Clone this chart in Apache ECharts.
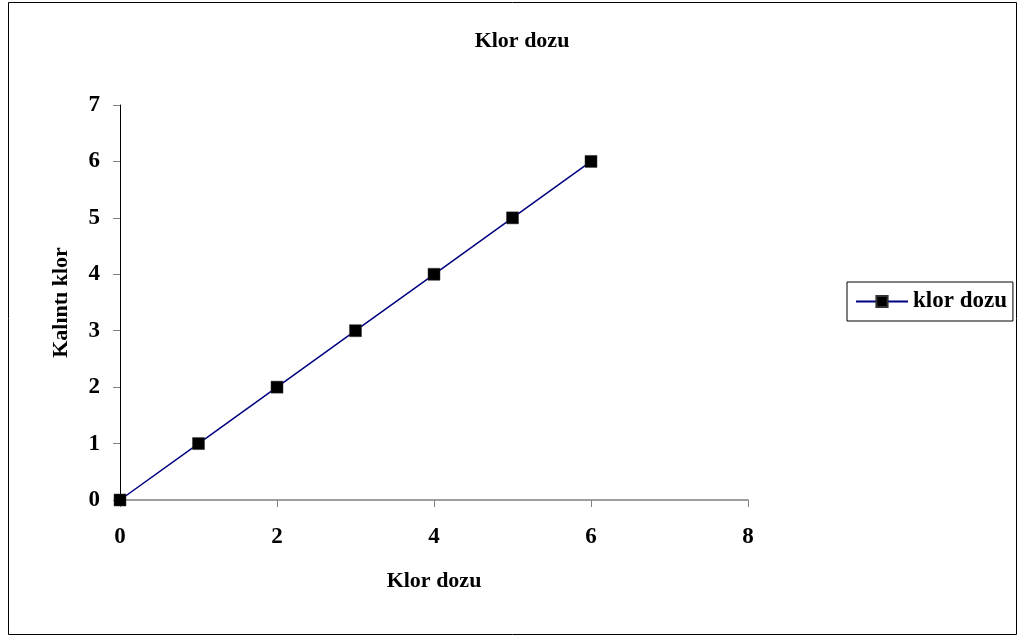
<!DOCTYPE html>
<html><head><meta charset="utf-8">
<script src="https://cdn.jsdelivr.net/npm/echarts@6/dist/echarts.min.js"></script>
<style>html,body{margin:0;padding:0;background:#fff}#c{width:1019px;height:638px}</style>
</head><body><div id="c"></div>
<script>
const xValues = [0, 1, 2, 3, 4, 5, 6];
const yValues = [0, 1, 2, 3, 4, 5, 6];
const seriesName = 'klor dozu';
const titleText = 'Klor dozu';
const xAxisName = 'Klor dozu';
const yAxisName = 'Kalıntı klor';

const font = '"Liberation Serif", "Times New Roman", serif';
const chart = echarts.init(document.getElementById('c'));
chart.setOption({
  backgroundColor: '#fff',
  animation: false,
  graphic: [{
    type: 'rect', shape: {x: 8.5, y: 2.5, width: 1008, height: 632},
    style: {fill: 'none', stroke: '#000', lineWidth: 1}, silent: true, z: -1
  }],
  title: {
    text: titleText, left: 517, top: 25, textAlign: 'center',
    textStyle: {fontFamily: font, fontWeight: 'bold', fontSize: 22, color: '#000'}
  },
  legend: {
    left: 847, top: 282, orient: 'vertical',
    borderColor: '#000', borderWidth: 1, padding: [8, 6, 8, 8],
    itemWidth: 52, itemHeight: 14, itemGap: 0,
    textStyle: {fontFamily: font, fontWeight: 'bold', fontSize: 23, color: '#000'},
    data: [{name: seriesName}]
  },
  grid: {left: 120, right: 271, top: 105, bottom: 138, containLabel: false},
  xAxis: {
    type: 'value', min: 0, max: 8, interval: 2,
    name: xAxisName, nameLocation: 'middle', nameGap: 70,
    nameTextStyle: {fontFamily: font, fontWeight: 'bold', fontSize: 22, color: '#000'},
    axisLine: {show: true, onZero: false, lineStyle: {color: '#808080', width: 1.5}},
    axisTick: {show: true, inside: false, length: 7, lineStyle: {color: '#808080'}},
    axisLabel: {fontFamily: font, fontWeight: 'bold', fontSize: 23, color: '#000', margin: 26},
    splitLine: {show: false}
  },
  yAxis: {
    type: 'value', min: 0, max: 7, interval: 1,
    name: yAxisName, nameLocation: 'middle', nameGap: 48, nameRotate: 90,
    nameTextStyle: {fontFamily: font, fontWeight: 'bold', fontSize: 22, color: '#000'},
    axisLine: {show: true, onZero: false, lineStyle: {color: '#000', width: 1}},
    axisTick: {show: true, inside: false, length: 7, lineStyle: {color: '#808080'}},
    axisLabel: {fontFamily: font, fontWeight: 'bold', fontSize: 23, color: '#000', margin: 20},
    splitLine: {show: false}
  },
  series: [{
    name: seriesName, type: 'line',
    data: xValues.map((x, i) => [x, yValues[i]]),
    symbol: 'rect', symbolSize: 12, showAllSymbol: true,
    lineStyle: {color: '#000080', width: 1.5},
    itemStyle: {color: '#000', borderColor: '#333', borderWidth: 0.5},
    color: '#000080'
  }]
});
</script></body></html>
